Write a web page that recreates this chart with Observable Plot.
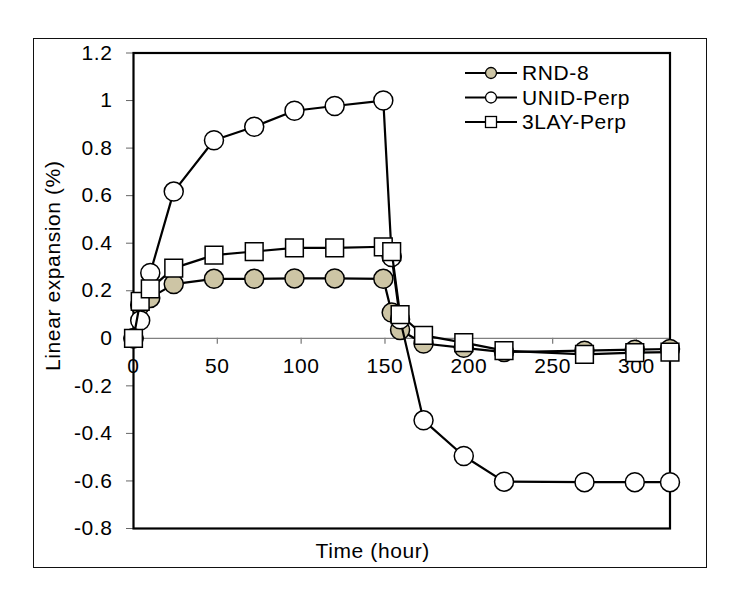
<!DOCTYPE html>
<html>
<head>
<meta charset="utf-8">
<script src="https://cdn.jsdelivr.net/npm/d3@7"></script>
<script src="https://cdn.jsdelivr.net/npm/@observablehq/plot@0.6"></script>
<style>
  html, body { margin: 0; padding: 0; background: #fff; }
  #wrap { position: relative; width: 735px; height: 596px; }
  #outer { position: absolute; left: 33px; top: 38px; width: 674px; height: 530px; box-sizing: border-box; border: 1.6px solid #111; }
  #chart { position: absolute; left: 0; top: 0; }
  svg text { letter-spacing: 0.6px; }
</style>
</head>
<body>
<div id="wrap"><div id="outer"></div><div id="chart"></div></div>
<script>
// Data
const times = [0, 4, 10, 24, 48, 72, 96, 120, 149, 154, 159, 173, 197, 221, 269, 299, 320];
const rnd8 = [0, 0.14, 0.17, 0.228, 0.25, 0.25, 0.252, 0.252, 0.25, 0.108, 0.035, -0.022, -0.04, -0.058, -0.052, -0.048, -0.045];
const unidPerp = [0, 0.075, 0.275, 0.617, 0.833, 0.89, 0.957, 0.977, 1.0, 0.342, 0.08, -0.345, -0.495, -0.603, -0.605, -0.605, -0.605];
const lay3Perp = [0, 0.155, 0.208, 0.295, 0.35, 0.365, 0.38, 0.38, 0.385, 0.365, 0.1, 0.012, -0.018, -0.052, -0.068, -0.06, -0.058];
const seriesNames = ["RND-8", "UNID-Perp", "3LAY-Perp"];
const seriesValues = [rnd8, unidPerp, lay3Perp];
const seriesFill = ["#CDC5A5", "#ffffff", "#ffffff"];
const seriesSymbol = ["circle", "circle", "square"];
const xTicks = [0, 50, 100, 150, 200, 250, 300];
const yTicks = [-0.8, -0.6, -0.4, -0.2, 0, 0.2, 0.4, 0.6, 0.8, 1, 1.2];
const xLabel = "Time (hour)";
const yLabel = "Linear expansion (%)";

const font = "'Liberation Sans', Arial, sans-serif";
const fs = 21;
const fmt = d => String(Number(d.toFixed(1)));

const seriesMarks = seriesNames.flatMap((name, i) => {
  const rows = times.map((t, j) => ({t, v: seriesValues[i][j], s: name}));
  return [
    Plot.line(rows, {x: "t", y: "v", stroke: "#000", strokeWidth: 2.2}),
    Plot.dot(rows, {x: "t", y: "v", symbol: seriesSymbol[i], r: seriesSymbol[i] === "square" ? 10 : 9.5,
      fill: seriesFill[i], stroke: "#000", strokeWidth: 1.5})
  ];
});

const svg = Plot.plot({
  width: 735,
  height: 596,
  marginLeft: 133,
  marginRight: 65.5,
  marginTop: 52.5,
  marginBottom: 68,
  style: {fontFamily: font, fontSize: fs + "px", background: "transparent", color: "#000"},
  x: {domain: [0, 320], axis: null},
  y: {domain: [-0.8, 1.2]},
  marks: [
    Plot.ruleY([0], {stroke: "#808080", strokeWidth: 1.3}),
    Plot.ruleX(xTicks, {x: d => d, y1: 0, y2: -0.025, stroke: "#808080", strokeWidth: 1.3}),
    Plot.text(xTicks, {x: d => d, y: 0, dy: 28, text: d => String(d), fontSize: fs, fill: "#000"}),
    Plot.axisY(yTicks, {tickSize: 7, tickPadding: 14, tickFormat: fmt, label: null, fontSize: fs, stroke: "#666", fill: "#000"}),
    Plot.frame({stroke: "#000", strokeWidth: 2.2}),
    ...seriesMarks,
    Plot.text([yLabel], {frameAnchor: "left", textAnchor: "middle", lineAnchor: "middle", text: d => d, rotate: -90, dx: -80, dy: -25, fontSize: fs, fill: "#000"}),
    Plot.text([xLabel], {frameAnchor: "bottom", textAnchor: "middle", lineAnchor: "middle", text: d => d, dx: -29, dy: 23, fontSize: fs, fill: "#000"})
  ]
});
document.getElementById("chart").appendChild(svg);

// Legend (top right, inside plot)
const lg = d3.select(svg).append("g").attr("font-family", font).attr("font-size", fs).attr("text-anchor", "start");
seriesNames.forEach((name, i) => {
  const y = 73 + i * 24.5;
  const g = lg.append("g");
  g.append("line").attr("x1", 465).attr("x2", 517).attr("y1", y).attr("y2", y)
    .attr("stroke", "#000").attr("stroke-width", 2.2);
  if (seriesSymbol[i] === "square") {
    g.append("rect").attr("x", 491 - 5.5).attr("y", y - 5.5).attr("width", 11).attr("height", 11)
      .attr("fill", seriesFill[i]).attr("stroke", "#000").attr("stroke-width", 1.3);
  } else {
    g.append("circle").attr("cx", 491).attr("cy", y).attr("r", 5.5)
      .attr("fill", seriesFill[i]).attr("stroke", "#000").attr("stroke-width", 1.3);
  }
  g.append("text").attr("x", 522).attr("y", y).attr("dy", "0.35em").attr("text-anchor", "start").attr("fill", "#000").text(name);
});
</script>
</body>
</html>
